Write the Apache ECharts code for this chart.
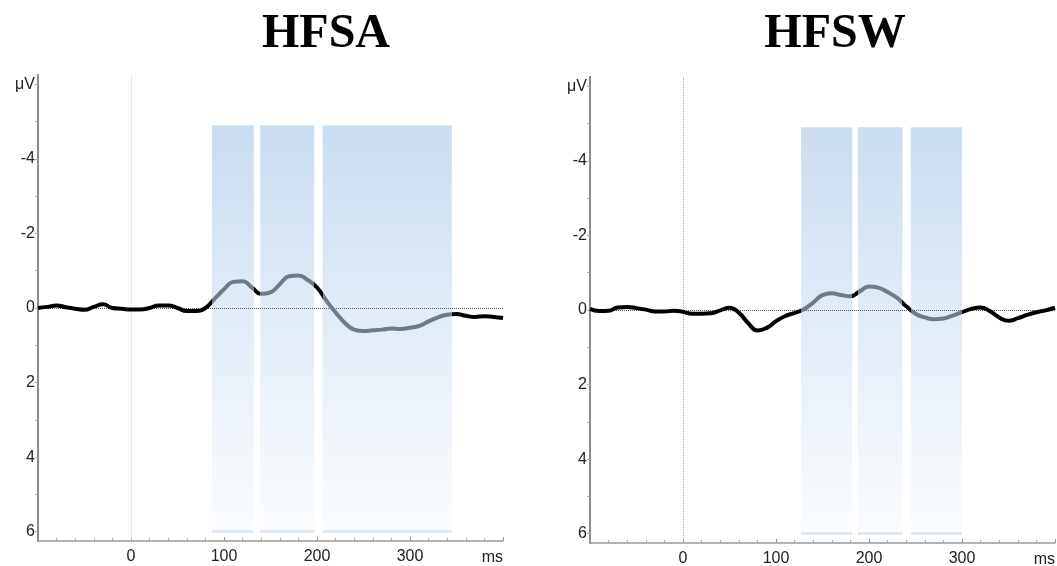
<!DOCTYPE html>
<html>
<head>
<meta charset="utf-8">
<script src="https://cdn.jsdelivr.net/npm/echarts@6/dist/echarts.min.js"></script>
<style>
  html, body { margin: 0; padding: 0; background: #fff; }
  #chart { width: 1057px; height: 566px; }
</style>
</head>
<body>
<div id="chart"></div>
<script>
    // time points (ms), 10 ms step
    var times = [-100,-90,-80,-70,-60,-50,-40,-30,-20,-10,0,10,20,30,40,50,60,70,80,90,100,
                 110,120,130,140,150,160,170,180,190,200,210,220,230,240,250,260,270,280,290,300,
                 310,320,330,340,350,360,370,380,390,400];
    // amplitudes (µV), negative up
    var hfsaValues = [0.00,-0.03,-0.07,-0.02,0.02,0.05,-0.03,-0.10,0.00,0.02,0.04,0.04,0.00,-0.07,-0.07,0.00,0.08,0.08,0.00,-0.25,-0.50,
                      -0.70,-0.72,-0.55,-0.38,-0.42,-0.64,-0.85,-0.87,-0.75,-0.55,-0.20,0.12,0.40,0.58,0.62,0.60,0.58,0.55,0.56,0.53,
                      0.48,0.36,0.25,0.18,0.16,0.21,0.24,0.22,0.24,0.27];
    var hfswValues = [-0.03,0.03,0.02,-0.07,-0.08,-0.05,-0.01,0.04,0.04,0.02,0.05,0.10,0.10,0.09,0.01,-0.06,0.07,0.35,0.55,0.48,0.30,
                      0.16,0.08,-0.02,-0.20,-0.40,-0.45,-0.40,-0.37,-0.50,-0.63,-0.60,-0.48,-0.33,-0.10,0.10,0.20,0.25,0.23,0.15,0.06,
                      -0.03,-0.07,0.03,0.20,0.29,0.22,0.13,0.06,0.01,-0.06];
    // analysis windows [start, end] in ms
    var hfsaWindows = [[87,132],[139,197],[206,345]];
    var hfswWindows = [[127,182],[188,236],[245,300]];
    var windowTop = -4.9;
    var windowBottom = 6;
    var yTicks = [-6,-5,-4,-3,-2,-1,0,1,2,3,4,5,6];
    var yLabels = [-6,-4,-2,0,2,4,6];
    var titles = ['HFSA','HFSW'];

    function pairs(xs, ys){
        var out = [];
        for (var i=0;i<xs.length;i++) out.push([xs[i], ys[i]]);
        return out;
    }

    var fill = new echarts.graphic.LinearGradient(0,0,0,1,[
        {offset:0, color:'#cadcf0'},
        {offset:1, color:'#fbfdff'}
    ]);

    function areas(win){
        var a = [];
        for (var i=0;i<win.length;i++){
            a.push([{xAxis:win[i][0], yAxis:windowTop},{xAxis:win[i][1], yAxis:windowBottom}]);
        }
        return a;
    }
    function baseAreas(win){
        var a = [];
        for (var i=0;i<win.length;i++){
            a.push([{xAxis:win[i][0], yAxis:5.96},{xAxis:win[i][1], yAxis:6.03}]);
        }
        return a;
    }
    function pieces(win){
        var p = [];
        for (var i=0;i<win.length;i++) p.push({gte:win[i][0], lte:win[i][1], color:'#6e7b85'});
        return p;
    }

    function xAxisOf(idx){
        return {
            type:'value', gridIndex:idx, min:-100, max:400, interval:100,
            axisLine:{show:true, onZero:false, lineStyle:{color:'#999', width:1.5}},
            axisTick:{show:true, inside:true, length:4, lineStyle:{color:'#999'}},
            minorTick:{show:true, splitNumber:5, length:3, lineStyle:{color:'#aaa'}},
            splitLine:{show:false},
            axisLabel:{
                color:'#222', fontSize:16, fontFamily:'Liberation Sans', margin:8,
                formatter:function(v){ return (v === -100 || v === 400) ? '' : v; }
            },
            name:'ms', nameLocation:'end', nameGap:0,
            nameTextStyle:{color:'#222', fontSize:16, fontFamily:'Liberation Sans',
                align:'right', verticalAlign:'top', padding:[9,0,0,0]}
        };
    }
    function yAxisOf(idx){
        return {
            type:'value', gridIndex:idx, inverse:true, min:-6.25, max:6.25,
            axisLine:{show:true, onZero:false, lineStyle:{color:'#8c8c8c', width:2}},
            axisTick:{show:true, length:3, customValues:yTicks, lineStyle:{color:'#aaa'}},
            splitLine:{show:false},
            axisLabel:{
                color:'#222', fontSize:16, fontFamily:'Liberation Sans', margin:3,
                customValues:yLabels,
                formatter:function(v){ return v === -6 ? 'μV' : v; }
            }
        };
    }
    function seriesOf(idx, vals, win, vColor){
        return [{
            type:'line', xAxisIndex:idx, yAxisIndex:idx, data:pairs(times, vals),
            smooth:true, showSymbol:false, symbol:'none', z:5,
            lineStyle:{width:4},
            markArea:{silent:true, itemStyle:{color:fill}, data:areas(win)},
            markLine:{
                silent:true, symbol:'none', label:{show:false},
                data:[
                    {yAxis:0, lineStyle:{color:'#555', type:'dotted', width:1}},
                    {xAxis:0, lineStyle:{color:vColor, type:'dotted', width:1}}
                ]
            }
        },{
            type:'line', xAxisIndex:idx, yAxisIndex:idx, data:[],
            markArea:{silent:true, itemStyle:{color:'#d8e6f5'}, data:baseAreas(win)}
        }];
    }

    var myChart = echarts.init(document.getElementById('chart'));
    var option = {
        animation:false,
        backgroundColor:'#fff',
        title:[
            {text:titles[0], left:321, top:6, textAlign:'center',
             textStyle:{fontFamily:'Liberation Serif', fontWeight:'bold', fontSize:48, color:'#000'}},
            {text:titles[1], left:830, top:6, textAlign:'center',
             textStyle:{fontFamily:'Liberation Serif', fontWeight:'bold', fontSize:48, color:'#000'}}
        ],
        grid:[
            {left:38, top:75, width:465, height:466, outerBoundsMode:'none'},
            {left:590, top:77, width:465, height:466, outerBoundsMode:'none'}
        ],
        xAxis:[xAxisOf(0), xAxisOf(1)],
        yAxis:[yAxisOf(0), yAxisOf(1)],
        visualMap:[
            {type:'piecewise', show:false, seriesIndex:0, dimension:0, pieces:pieces(hfsaWindows), outOfRange:{color:'#000'}},
            {type:'piecewise', show:false, seriesIndex:2, dimension:0, pieces:pieces(hfswWindows), outOfRange:{color:'#000'}}
        ],
        series:[].concat(seriesOf(0, hfsaValues, hfsaWindows, '#cfcfcf'), seriesOf(1, hfswValues, hfswWindows, '#aaa'))
    };
    myChart.setOption(option);
</script>
</body>
</html>
